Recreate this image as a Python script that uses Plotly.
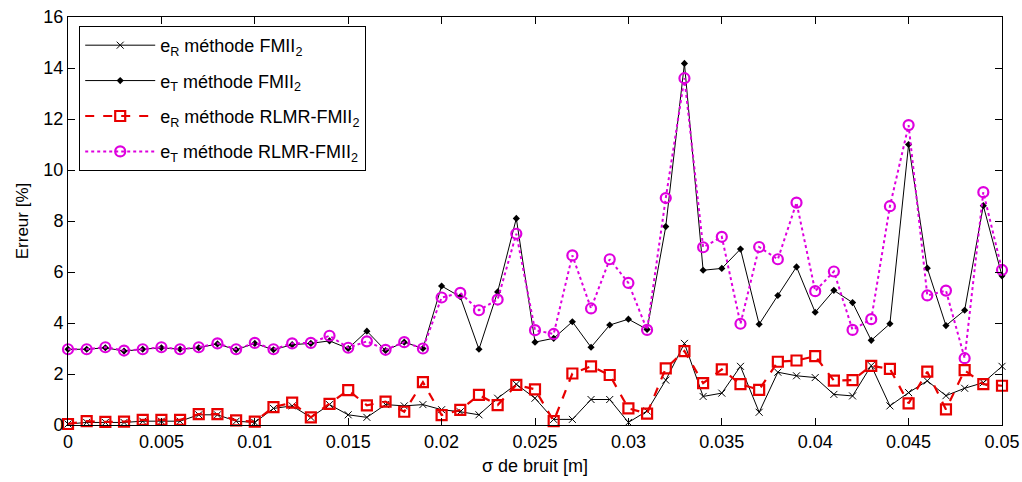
import plotly.graph_objects as go

sigma = [0.000, 0.001, 0.002, 0.003, 0.004, 0.005, 0.006, 0.007, 0.008, 0.009,
         0.010, 0.011, 0.012, 0.013, 0.014, 0.015, 0.016, 0.017, 0.018, 0.019,
         0.020, 0.021, 0.022, 0.023, 0.024, 0.025, 0.026, 0.027, 0.028, 0.029,
         0.030, 0.031, 0.032, 0.033, 0.034, 0.035, 0.036, 0.037, 0.038, 0.039,
         0.040, 0.041, 0.042, 0.043, 0.044, 0.045, 0.046, 0.047, 0.048, 0.049,
         0.050]

eR_FMII = [0.04, 0.10, 0.10, 0.10, 0.15, 0.15, 0.15, 0.40, 0.40, 0.15,
           0.10, 0.65, 0.75, 0.30, 0.80, 0.40, 0.30, 0.80, 0.75, 0.80,
           0.60, 0.52, 0.40, 1.05, 1.60, 1.05, 0.22, 0.22, 1.00, 1.00,
           0.10, 0.55, 1.76, 3.20, 1.12, 1.25, 2.30, 0.50, 2.07, 1.93,
           1.86, 1.20, 1.14, 2.33, 0.75, 1.27, 1.73, 1.15, 1.44, 1.66,
           2.30]

eT_FMII = [2.97, 2.97, 3.03, 2.90, 2.97, 3.03, 2.97, 3.03, 3.18, 2.95,
           3.20, 2.95, 3.15, 3.20, 3.30, 3.00, 3.68, 2.92, 3.25, 3.00,
           5.45, 5.03, 2.97, 5.22, 8.10, 3.25, 3.40, 4.05, 3.05, 3.92,
           4.15, 3.75, 7.78, 14.18, 6.07, 6.14, 6.90, 3.95, 5.08, 6.20,
           4.42, 5.28, 4.80, 3.32, 3.97, 11.00, 6.15, 3.90, 4.50, 8.60,
           5.85]

eR_RLMR = [0.04, 0.15, 0.12, 0.13, 0.20, 0.20, 0.20, 0.43, 0.43, 0.18,
           0.13, 0.70, 0.88, 0.30, 0.83, 1.37, 0.77, 0.92, 0.52, 1.68,
           0.39, 0.59, 1.18, 0.78, 1.57, 1.40, 0.15, 2.02, 2.30, 1.96,
           0.65, 0.45, 2.22, 2.90, 1.64, 2.18, 1.60, 1.38, 2.48, 2.53,
           2.70, 1.74, 1.76, 2.32, 2.20, 0.85, 2.09, 0.61, 2.15, 1.60,
           1.54]

eT_RLMR = [2.97, 2.97, 3.05, 2.92, 2.97, 3.05, 2.97, 3.05, 3.20, 2.97,
           3.22, 2.97, 3.20, 3.22, 3.50, 3.03, 3.28, 2.95, 3.25, 3.00,
           5.00, 5.18, 4.50, 4.92, 7.50, 3.72, 3.57, 6.65, 4.57, 6.50,
           5.57, 3.73, 8.90, 13.60, 6.97, 7.38, 3.97, 6.98, 6.50, 8.72,
           5.25, 6.02, 3.73, 4.15, 8.58, 11.76, 5.08, 5.27, 2.62, 9.13,
           6.08]

x_ticks = [0, 0.005, 0.01, 0.015, 0.02, 0.025, 0.03, 0.035, 0.04, 0.045, 0.05]
x_ticklabels = ["0", "0.005", "0.01", "0.015", "0.02", "0.025", "0.03",
                "0.035", "0.04", "0.045", "0.05"]
y_ticks = [0, 2, 4, 6, 8, 10, 12, 14, 16]

labels = ["e<sub>R</sub> méthode FMII<sub>2</sub>",
          "e<sub>T</sub> méthode FMII<sub>2</sub>",
          "e<sub>R</sub> méthode RLMR-FMII<sub>2</sub>",
          "e<sub>T</sub> méthode RLMR-FMII<sub>2</sub>"]

RED = "rgb(232,0,0)"
MAG = "rgb(222,0,222)"
FONT = "Liberation Sans, Arial, sans-serif"

fig = go.Figure()
fig.add_trace(go.Scatter(
    x=sigma, y=eR_FMII, name=labels[0], mode="lines+markers", legendgroup="g1",
    line=dict(color="black", width=1),
    marker=dict(symbol="x-thin-open", size=7, color="black",
                line=dict(color="black", width=1)),
    cliponaxis=False))
fig.add_trace(go.Scatter(
    x=sigma, y=eT_FMII, name=labels[1], mode="lines+markers", legendgroup="g2",
    line=dict(color="black", width=1),
    marker=dict(symbol="diamond", size=5.5, color="black"),
    cliponaxis=False))
fig.add_trace(go.Scatter(
    x=sigma, y=eR_RLMR, name=labels[2], mode="lines+markers", legendgroup="g3",
    line=dict(color=RED, width=2.2, dash="dash"),
    marker=dict(symbol="square-open", size=10, color=RED,
                line=dict(color=RED, width=2.2)),
    cliponaxis=False))
fig.add_trace(go.Scatter(
    x=sigma, y=eT_RLMR, name=labels[3], mode="lines+markers", legendgroup="g4",
    line=dict(color=MAG, width=2, dash="dot"),
    marker=dict(symbol="circle-open", size=10, color=MAG,
                line=dict(color=MAG, width=2.2)),
    cliponaxis=False))

axis_common = dict(showline=True, linecolor="black", linewidth=1, mirror="ticks",
                   ticks="inside", ticklen=7, tickcolor="black", showgrid=False,
                   zeroline=False, automargin=False,
                   tickfont=dict(family=FONT, size=18, color="black"))

fig.update_layout(
    width=1022, height=482,
    margin=dict(l=68, r=20, t=17, b=57),
    paper_bgcolor="white", plot_bgcolor="white",
    font=dict(family=FONT, size=17, color="black"),
    xaxis=dict(range=[0, 0.05], tickvals=x_ticks, ticktext=x_ticklabels,
               title=dict(text="σ de bruit [m]", font=dict(size=18), standoff=8),
               **axis_common),
    yaxis=dict(range=[0, 16], tickvals=y_ticks,
               title=dict(text="Erreur [%]", font=dict(size=17), standoff=10),
               **axis_common),
    legend=dict(x=0.012, y=0.978, xanchor="left", yanchor="top",
                bgcolor="white", bordercolor="black", borderwidth=1,
                font=dict(family=FONT, size=18, color="black"),
                tracegroupgap=9, itemwidth=70, traceorder="grouped"),
    showlegend=True,
)

fig.write_html("out.html")
